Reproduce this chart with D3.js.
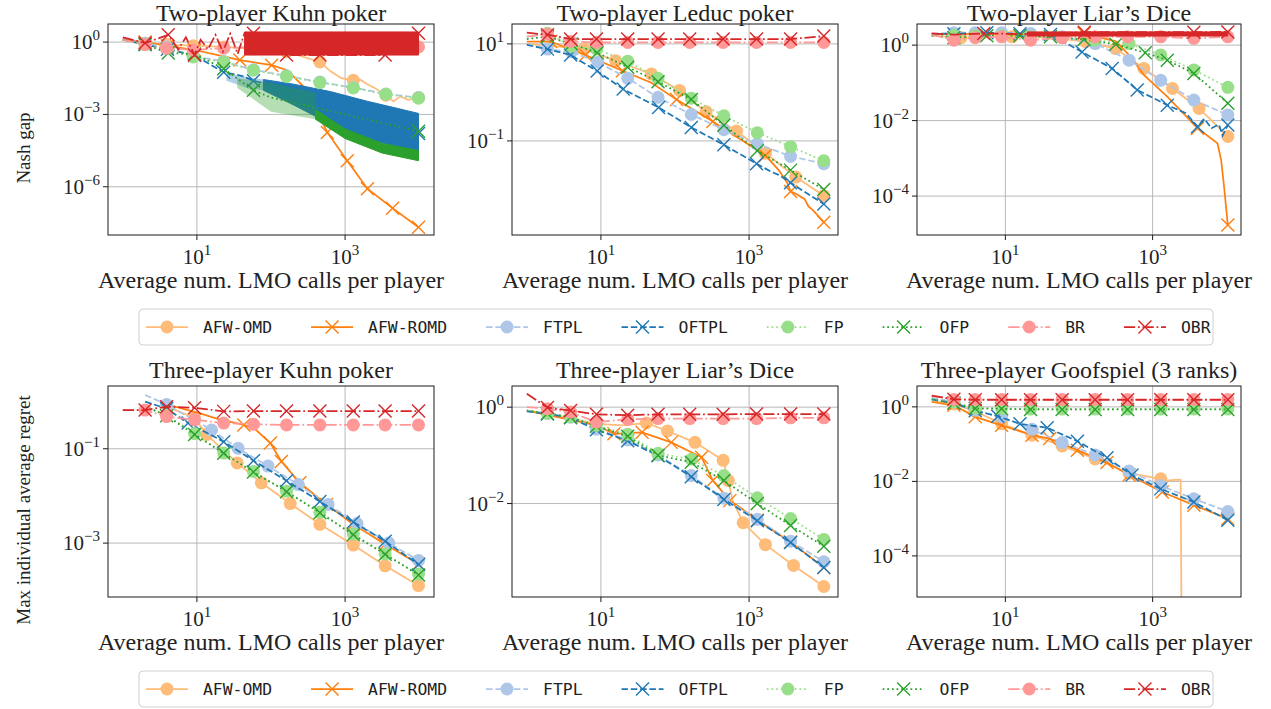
<!DOCTYPE html>
<html><head><meta charset="utf-8">
<script src="https://cdn.jsdelivr.net/npm/d3@7"></script>
<style>body{margin:0;background:#fff}</style>
</head><body><svg id="c" width="1271" height="709"></svg>
<script>
// ---------- data ----------
const SERIES = ['AFW-OMD','AFW-ROMD','FTPL','OFTPL','FP','OFP','BR','OBR'];
const COLORS = ['#ffbb78','#ff7f0e','#aec7e8','#1f77b4','#98df8a','#2ca02c','#ff9896','#d62728'];
const MARKERS = ['circle','x','circle','x','circle','x','circle','x'];
const LINESTYLES = ['solid','solid','dashed','dashed','dotted','dotted','dashdot','dashdot'];
const TITLES = ['Two-player Kuhn poker','Two-player Leduc poker','Two-player Liar\u2019s Dice',
                'Three-player Kuhn poker','Three-player Liar\u2019s Dice','Three-player Goofspiel (3 ranks)'];
const YLABELS = ['Nash gap','Max individual average regret'];
const XLABEL = 'Average num. LMO calls per player';
const X_TICKS = [10, 1000];
const Y_TICKS = [[1,1e-3,1e-6],[10,0.1],[1,1e-2,1e-4],[0.1,1e-3],[1,1e-2],[1,1e-2,1e-4]];
const X_DOMAIN = [0.631, 15850];
const Y_DOMAINS = [[1e-8,5.62],[1.15e-3,25.7],[9.3e-6,3.63],[7.2e-5,2.14],[1.15e-4,2.75],[7.9e-6,3.63]];

// points: [x, y] (marker drawn) or [x, y, 0] (line point only)
const KUHN2 = {
 'AFW-OMD': [[1,1.41,0],[2,0.89],[3.9,0.79],[8.9,0.71],[23,0.63],[58,0.52],[162,0.4],[457,0.15],[630,0.063,0],[890,0.032,0],[1290,0.026],[1580,0.028,0],[2000,0.018,0],[2500,0.0126,0],[3550,0.0063],[4470,0.0035,0],[5620,0.0056,0],[7080,0.004,0],[9800,0.005]],
 'AFW-ROMD': [[1,1.26,0],[2,1.0],[4,0.71],[9.3,0.47],[20,0.28,0],[38,0.18],[102,0.11],[166,0.068,0],[309,0.01,0],[575,1.8e-4],[1070,1.2e-5],[2000,8.3e-7],[4370,1.3e-7],[9800,2.1e-8]],
 'FTPL': [[1,1.26,0],[2,0.89],[3.9,0.63],[8.9,0.26],[23,0.16],[58,0.071],[162,0.04],[457,0.022],[1290,0.013],[3550,0.0071],[9800,0.005]],
 'OFTPL': [[1,1.26,0],[2,0.79],[4,0.5],[9.3,0.28],[23,0.056],[40,0.04,0],[58,0.025],[79,0.02,0],[9800,1.6e-4]],
 'FP': [[1,1.26,0],[2,0.79],[3.9,0.56],[8.9,0.24],[23,0.148],[58,0.068],[162,0.038],[457,0.021],[1290,0.0126],[3550,0.0068],[9800,0.0047]],
 'OFP': [[1,1.26,0],[2,0.79],[4.1,0.35],[9.3,0.32],[23,0.079],[58,0.01],[100,0.005,0],[9800,2e-4]],
 'BR': [[1,1.26,0],[2,0.79],[3.9,0.56],[8.9,0.47],[23,0.56],[58,0.63],[162,0.63],[457,0.63],[1290,0.63],[3550,0.63],[9800,0.63]],
 'OBR': [[1,1.58,0],[2,0.91],[4.1,2.0],[5.6,0.5,0],[7.1,1.58,0],[9.3,0.29],[11.2,1.26,0],[14.1,0.5,0],[17.8,2.0,0],[22.4,0.4,0],[28.2,2.24,0],[35.5,0.32,0],[44,2.4,0],[58,2.34],[162,0.29],[457,0.29],[3470,0.29],[9800,2.34]]
};
// rapidly oscillating runs, read as upper / lower envelopes (dense part and sparse part)
const KUHN2_BANDS = {
 'OFTPL': {x:[79,200,631,2000,5010,9800], hi:[0.028,0.018,0.0089,0.0035,0.0018,0.0011], lo:[0.01,0.0025,4e-4,1e-4,4.5e-5,2.8e-5]},
 'OFP': {x:[398,1000,3160,9800], hi:[0.0016,2.5e-4,6.3e-5,3.2e-5], lo:[6.3e-4,1e-4,2.5e-5,1.2e-5]},
 'OBR': {x:[44,9800], hi:[2.63,2.63], lo:[0.29,0.29]}
};
const KUHN2_SPARSE = {
 'OFP': {x:[35,100,400], hi:[0.032,0.02,0.008], lo:[0.0126,0.0013,6.3e-4]},
 'OFTPL': {x:[25,50,79], hi:[0.05,0.035,0.028], lo:[0.025,0.012,0.01]}
};
const LEDUC2 = {
 'AFW-OMD': [[1,10,0],[2.5,8.9,0],[5.9,7.8],[15.8,4.5],[48,2.4],[115,1.1],[263,0.4],[676,0.16],[1660,0.056],[4270,0.018],[10200,0.0074]],
 'AFW-ROMD': [[1,11.2,0],[2.1,11.2],[6.2,5.9],[19.5,2.8],[48,1.58,0],[105,0.71],[324,0.25],[832,0.1,0],[1660,0.05],[2510,0.025,0],[3240,0.0141,0],[3630,0.0091],[4470,0.0079,0],[5620,0.0063,0],[6300,0.0045,0],[7590,0.0035,0],[10200,0.0021]],
 'FTPL': [[1,10,0],[1.9,7.8],[4,6.9],[9.1,4.2],[23,1.95],[59,0.79],[166,0.35],[457,0.17],[1290,0.087],[3630,0.048],[10200,0.034]],
 'OFTPL': [[1,9.5,0],[1.9,7.8],[3.9,5.9],[8.9,2.75],[20,1.17],[60,0.49],[166,0.19],[457,0.083],[1260,0.034],[2000,0.023,0],[2500,0.02,0],[3630,0.0138],[5000,0.01,0],[10200,0.005]],
 'FP': [[1,14,0],[1.9,16.6],[4,8.9],[8.7,7.8],[23,4.4],[59,1.95],[166,0.76],[457,0.33],[1290,0.148],[3630,0.076],[10200,0.039]],
 'OFP': [[1,12.6,0],[1.9,14.1],[4,10],[8.9,6.6],[23,3.3],[59,1.66],[166,0.71],[457,0.21],[1290,0.063],[3630,0.025],[10200,0.01]],
 'BR': [[1,14.1,0],[1.9,15.8],[3.9,11.2],[8.7,10.7],[23,10.7],[59,10.7],[158,10.7],[447,10.7],[1260,10.7],[3630,10.7],[10200,10.7]],
 'OBR': [[1,17,0],[1.9,15.5],[3.9,12.6],[8.7,12.6],[23,12.6],[59,12.6],[158,12.6],[447,12.6],[1260,12.6],[3630,12.6],[10200,14.5]]
};
const LIARS2 = {
 'AFW-OMD': [[1,1.78,0],[2.5,1.58],[12.3,1.66],[40,1.58,0],[123,1.23],[316,0.81],[759,0.24],[1860,0.071],[4270,0.021],[10500,0.0038]],
 'AFW-ROMD': [[1,2.0,0],[3.2,2.0,0],[10,1.9,0],[32,1.86,0],[117,2.04],[316,1.26,0],[501,0.5,0],[759,0.162,0],[1580,0.043,0],[4070,0.0063],[7590,0.0025,0],[8510,9.1e-4,0],[9330,1.8e-4,0],[10500,1.7e-5]],
 'FTPL': [[1,2.0,0],[2,2.14],[3.9,2.14],[8.9,2.14],[22,2.04],[59,1.66],[166,1.1],[479,0.4],[1290,0.117],[3630,0.035],[10500,0.0141]],
 'OFTPL': [[1,2.0,0],[2,2.0],[5.6,2.14],[15.8,2.0],[41,1.9],[110,0.66],[282,0.24],[617,0.065],[1580,0.0257],[2820,0.0158,0],[4070,0.0069],[5010,0.0112,0],[6310,0.0063,0],[7940,0.0079,0],[8910,0.004,0],[10500,0.0076]],
 'FP': [[1,1.78,0],[2,1.82],[3.9,1.78],[8.9,1.78],[22,1.66],[59,1.58],[166,1.35],[479,1.1],[1290,0.55],[3630,0.22],[10500,0.076]],
 'OFP': [[1,1.78,0],[2,1.58],[5.6,1.78],[15.8,1.78],[41,1.66],[117,1.41],[316,1.05],[794,0.63],[1580,0.4],[3630,0.178],[10500,0.029]],
 'BR': [[1,1.9,0],[2,1.35],[3.9,1.58],[8.9,1.66],[22,1.35],[59,1.58],[166,1.66],[457,1.66],[1290,1.66],[3630,1.51],[10500,1.66]],
 'OBR': [[1,2.04,0],[2,1.9,0],[5.1,2.04],[10,2.0,0],[20,2.0,0],[118,2.2],[3630,2.2],[10500,2.24]]
};
const LIARS2_BANDS = {
 'OBR': {x:[20,10500], hi:[2.24,2.24], lo:[1.74,1.74]}
};
const KUHN3 = {
 'AFW-OMD': [[3.9,0.79,0],[9.3,0.45],[13.5,0.2],[35,0.05],[74,0.019],[182,0.0069],[457,0.0025],[1290,9.1e-4],[3470,3.3e-4],[9800,1.26e-4]],
 'AFW-ROMD': [[3.9,0.87,0],[11,0.56,0],[20,0.42,0],[43,0.32],[63,0.25,0],[98,0.132],[138,0.054],[245,0.019],[562,0.0066],[1290,0.0025],[3470,9.5e-4],[9800,3.6e-4]],
 'FTPL': [[2,1.38,0],[3.9,0.87],[15.8,0.25],[36,0.102],[91,0.043],[234,0.0174],[589,0.0066],[1450,0.0026],[3890,0.001],[9800,4.3e-4]],
 'OFTPL': [[2,1.0,0],[3.9,0.71],[7.6,0.35],[23,0.141],[58,0.056],[162,0.021],[457,0.0076],[1290,0.0028],[3470,0.0011],[9800,3.5e-4]],
 'FP': [[2,0.79,0],[3.9,0.52],[9.3,0.21],[23,0.081],[58,0.033],[162,0.0126],[457,0.0045],[1290,0.00155],[3470,5.9e-4],[9800,2.2e-4]],
 'OFP': [[2,0.79,0],[3.9,0.5],[9.3,0.2],[23,0.08],[58,0.032],[162,0.0123],[457,0.0044],[1290,0.0015],[3470,5.8e-4],[9800,2.1e-4]],
 'BR': [[1,0.66,0],[2,0.66],[3.9,0.48],[9.3,0.41],[23,0.35],[58,0.33],[162,0.32],[457,0.32],[1290,0.32],[3470,0.32],[9800,0.32]],
 'OBR': [[1,0.66,0],[2,0.66],[3.9,0.78],[9.3,0.74],[23,0.62],[58,0.63],[162,0.63],[457,0.63],[1290,0.63],[3470,0.63],[9800,0.63]]
};
const LIARS3 = {
 'AFW-OMD': [[1,0.85,0],[1.9,0.74,0],[8.7,0.45,0],[20,0.42,0],[41,0.47],[79,0.32],[186,0.186],[447,0.079],[525,0.03],[603,0.0112,0],[832,0.004],[1660,0.0014],[3980,5.2e-4],[10200,1.9e-4]],
 'AFW-ROMD': [[1,0.85,0],[8.7,0.42,0],[15,0.28],[36,0.3],[89,0.186],[229,0.091],[324,0.03],[550,0.0115],[794,0.0079,0],[1290,0.0045],[3630,0.0016],[10200,4.7e-4]],
 'FTPL': [[1,0.85,0],[1.9,0.74],[3.9,0.62],[8.7,0.35],[23,0.21],[59,0.102],[166,0.038],[457,0.0129],[1290,0.0047],[3630,0.00166],[10200,6.2e-4]],
 'OFTPL': [[1,0.82,0],[1.9,0.72],[3.9,0.6],[8.7,0.34],[23,0.2],[59,0.098],[166,0.036],[457,0.0122],[1290,0.0044],[3630,0.00155],[10200,4.7e-4]],
 'FP': [[1,0.85,0],[1.9,0.74],[3.9,0.63],[8.7,0.42],[23,0.275],[59,0.11],[166,0.083],[457,0.038],[1290,0.0132],[3630,0.0049],[10200,0.0018]],
 'OFP': [[1,0.85,0],[1.9,0.74],[3.9,0.62],[8.7,0.4],[23,0.25],[59,0.1],[166,0.072],[457,0.03],[1290,0.01],[3630,0.0035],[10200,0.0013]],
 'BR': [[1,1.0,0],[1.9,0.93],[3.9,0.79],[8.7,0.49],[23,0.56],[59,0.58],[158,0.58],[447,0.58],[1260,0.58],[3630,0.6],[10200,0.6]],
 'OBR': [[1,1.9,0],[1.9,0.98],[3.9,0.85],[8.7,0.71],[23,0.68],[59,0.71],[158,0.71],[447,0.71],[1260,0.72],[3630,0.72],[10200,0.72]]
};
const GOOF3 = {
 'AFW-OMD': [[1,1.41,0],[2,1.2],[3.9,0.76],[8.9,0.35],[23,0.174],[59,0.089],[166,0.04],[479,0.0166],[1290,0.0117],[1580,0.0105,0],[2000,0.011,0],[2400,0.0112,0],[2510,1e-8,0]],
 'AFW-ROMD': [[1,1.35,0],[2,1.1],[3.9,0.54],[8.9,0.32],[23,0.174],[40,0.141],[95,0.069],[240,0.032],[479,0.0148],[1350,0.0052],[3630,0.0023],[10500,0.001]],
 'FTPL': [[1,1.78,0],[2,1.35],[3.9,0.81],[8.9,0.54],[23,0.25],[59,0.11],[166,0.051],[479,0.019],[1290,0.0076],[3630,0.0034],[10500,0.00155]],
 'OFTPL': [[1,1.58,0],[2,1.26],[3.9,0.79],[7.9,0.56],[15.8,0.35],[37,0.275],[95,0.12],[240,0.043],[525,0.0148],[1290,0.0063],[3630,0.0028],[10500,9.1e-4]],
 'FP': [[1,1.58,0],[2,1.35],[3.9,0.93],[8.9,0.91],[22,0.87],[59,0.87],[166,0.87],[457,0.87],[1290,0.87],[3630,0.87],[10500,0.87]],
 'OFP': [[1,1.58,0],[2,1.26],[3.9,0.9],[8.9,0.89],[22,0.85],[59,0.85],[166,0.85],[457,0.85],[1290,0.85],[3630,0.85],[10500,0.85]],
 'BR': [[1,1.95,0],[2,1.58],[3.9,1.58],[8.9,1.58],[22,1.58],[59,1.58],[166,1.58],[457,1.58],[1290,1.58],[3630,1.58],[10500,1.58]],
 'OBR': [[1,2.0,0],[2,1.6],[3.9,1.55],[8.9,1.55],[22,1.55],[59,1.55],[166,1.55],[457,1.55],[1290,1.55],[3630,1.55],[10500,1.55]]
};

// ---------- drawing ----------
const svg = d3.select('#c');
const SERIF = '"Liberation Serif","Times New Roman",serif';
const FS_LABEL = 24, FS_TICK = 21, FS_SUP = 15, FS_YLAB = 19;
const LW = 1.75;
const DASH = {solid:null, dashed:'6.5,2.8', dotted:'1.75,2.9', dashdot:'11.2,2.8,1.75,2.8'};
const MR = 6.5;

const PANELS = [
 {data:KUHN2, bands:KUHN2_BANDS, sparse:KUHN2_SPARSE, x:108, y:24, w:326, h:211, ty:21},
 {data:LEDUC2, bands:{}, sparse:{}, x:512, y:24, w:326, h:211, ty:21},
 {data:LIARS2, bands:LIARS2_BANDS, sparse:{}, x:917, y:24, w:324, h:211, ty:21},
 {data:KUHN3, bands:{}, sparse:{}, x:108, y:386, w:326, h:211, ty:378},
 {data:LIARS3, bands:{}, sparse:{}, x:512, y:386, w:326, h:211, ty:378},
 {data:GOOF3, bands:{}, sparse:{}, x:917, y:386, w:324, h:211, ty:378}
];

function powText(sel, v) {
  const e = Math.round(Math.log10(v));
  sel.append('tspan').text('10');
  sel.append('tspan').attr('dy', -9).attr('font-size', FS_SUP).text(e < 0 ? '\u2212' + (-e) : String(e));
}

function drawMarker(g, kind, cx, cy, color) {
  if (kind === 'circle') {
    g.append('circle').attr('cx', cx).attr('cy', cy).attr('r', MR).attr('fill', color);
  } else {
    g.append('path').attr('d', `M${cx-MR},${cy-MR}L${cx+MR},${cy+MR}M${cx-MR},${cy+MR}L${cx+MR},${cy-MR}`)
      .attr('stroke', color).attr('stroke-width', 1.4).attr('fill', 'none');
  }
}

PANELS.forEach((p, pi) => {
  const xs = d3.scaleLog().domain(X_DOMAIN).range([p.x, p.x + p.w]);
  const ys = d3.scaleLog().domain(Y_DOMAINS[pi]).range([p.y + p.h, p.y]);
  const g = svg.append('g');
  const cid = 'clip' + pi;
  svg.append('clipPath').attr('id', cid).append('rect').attr('x', p.x).attr('y', p.y).attr('width', p.w).attr('height', p.h);

  // grid
  X_TICKS.forEach(t => g.append('line').attr('x1', xs(t)).attr('x2', xs(t)).attr('y1', p.y).attr('y2', p.y + p.h)
    .attr('stroke', '#b0b0b0').attr('stroke-width', 0.9));
  Y_TICKS[pi].forEach(t => g.append('line').attr('y1', ys(t)).attr('y2', ys(t)).attr('x1', p.x).attr('x2', p.x + p.w)
    .attr('stroke', '#b0b0b0').attr('stroke-width', 0.9));

  const plot = g.append('g').attr('clip-path', `url(#${cid})`);
  const line = d3.line().x(d => xs(d[0])).y(d => ys(d[1]));
  const area = d3.area().x(d => xs(d[0])).y0(d => ys(d[1])).y1(d => ys(d[2]));
  const toRows = b => b.x.map((x, k) => [x, b.lo[k], b.hi[k]]);

  SERIES.forEach((s, si) => {
    const pts = p.data[s];
    if (!pts) return;
    const col = COLORS[si];
    const sp = p.sparse[s];
    if (sp) plot.append('path').datum(toRows(sp)).attr('d', area).attr('fill', col).attr('fill-opacity', 0.35);
    const band = p.bands[s];
    if (band) {
      plot.append('path').datum(toRows(band))
        .attr('d', area).attr('fill', col).attr('stroke', col).attr('stroke-width', 1);
    }
    plot.append('path').datum(pts).attr('d', line).attr('fill', 'none').attr('stroke', col)
      .attr('stroke-width', LW).attr('stroke-dasharray', DASH[LINESTYLES[si]]);
    pts.filter(d => d[2] !== 0).forEach(d => drawMarker(plot, MARKERS[si], xs(d[0]), ys(d[1]), col));
  });

  // frame
  g.append('rect').attr('x', p.x).attr('y', p.y).attr('width', p.w).attr('height', p.h)
    .attr('fill', 'none').attr('stroke', '#1a1a1a').attr('stroke-width', 1);

  // ticks + labels
  X_TICKS.forEach(t => {
    g.append('line').attr('x1', xs(t)).attr('x2', xs(t)).attr('y1', p.y + p.h).attr('y2', p.y + p.h + 5).attr('stroke', '#1a1a1a');
    const tx = g.append('text').attr('x', xs(t)).attr('y', p.y + p.h + 29).attr('text-anchor', 'middle')
      .attr('font-family', SERIF).attr('font-size', FS_TICK).attr('fill', '#222');
    powText(tx, t);
  });
  Y_TICKS[pi].forEach(t => {
    g.append('line').attr('y1', ys(t)).attr('y2', ys(t)).attr('x1', p.x - 5).attr('x2', p.x).attr('stroke', '#1a1a1a');
    const ty = g.append('text').attr('x', p.x - 8).attr('y', ys(t) + 7).attr('text-anchor', 'end')
      .attr('font-family', SERIF).attr('font-size', FS_TICK).attr('fill', '#222');
    powText(ty, t);
  });

  g.append('text').attr('x', p.x + p.w / 2).attr('y', p.ty).attr('text-anchor', 'middle')
    .attr('font-family', SERIF).attr('font-size', FS_LABEL).attr('fill', '#222').text(TITLES[pi]);
  g.append('text').attr('x', p.x + p.w / 2).attr('y', p.y + p.h + 53).attr('text-anchor', 'middle')
    .attr('font-family', SERIF).attr('font-size', FS_LABEL).attr('fill', '#222').text(XLABEL);
});

// row y-labels
[[148, YLABELS[0]], [510, YLABELS[1]]].forEach(([cy, txt]) => {
  svg.append('text').attr('transform', `translate(30,${cy}) rotate(-90)`).attr('text-anchor', 'middle')
    .attr('font-family', SERIF).attr('font-size', FS_YLAB).attr('fill', '#222').text(txt);
});

// legends
function legend(yc) {
  const g = svg.append('g');
  g.append('rect').attr('x', 139).attr('y', yc - 18).attr('width', 1074).attr('height', 36).attr('rx', 4)
    .attr('fill', '#fff').attr('stroke', '#d0d0d0');
  let x = 146;
  SERIES.forEach((s, i) => {
    g.append('line').attr('x1', x).attr('x2', x + 42).attr('y1', yc).attr('y2', yc).attr('stroke', COLORS[i])
      .attr('stroke-width', LW).attr('stroke-dasharray', DASH[LINESTYLES[i]]);
    drawMarker(g, MARKERS[i], x + 21, yc, COLORS[i]);
    const t = g.append('text').attr('x', x + 57).attr('y', yc + 6).attr('font-family', '"DejaVu Sans Mono",monospace')
      .attr('font-size', 16.4).attr('fill', '#222').text(s);
    x = x + 57 + t.node().getComputedTextLength() + 39;
  });
}
legend(327);
legend(689);
</script></body></html>
